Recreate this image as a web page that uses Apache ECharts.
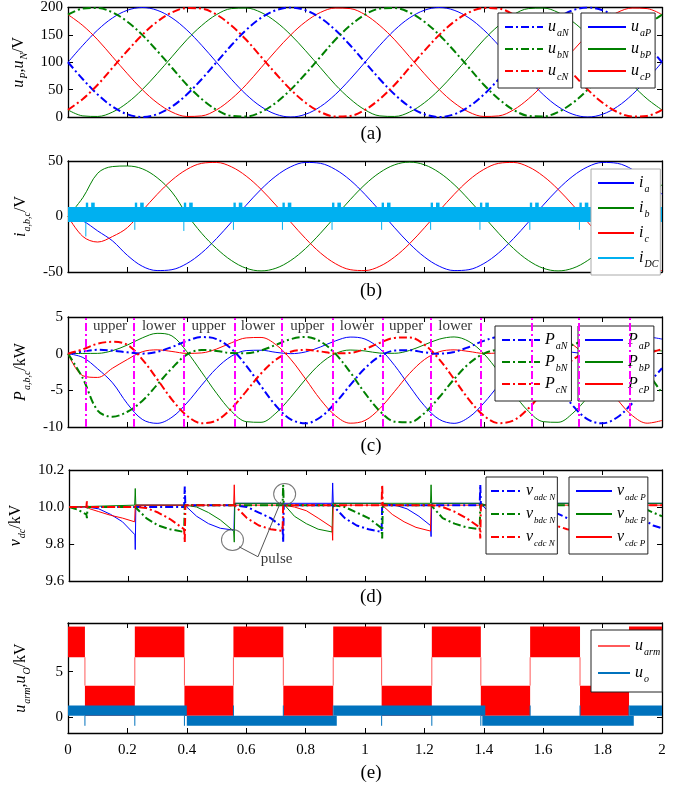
<!DOCTYPE html>
<html>
<head>
<meta charset="utf-8">
<script src="https://cdn.jsdelivr.net/npm/echarts@6/dist/echarts.min.js"></script>
<style>
html, body { margin: 0; padding: 0; background: #fff; }
#chart-container { width: 685px; height: 786px; }
</style>
</head>
<body>
<div id="chart-container"></div>
<script>
var dom = document.getElementById('chart-container');
var myChart = echarts.init(dom, null, { renderer: 'canvas' });

// time samples used by panels (a)-(c)
var t = [0,0.05,0.1,0.15,0.2,0.25,0.3,0.35,0.4,0.45,0.5,0.55,0.6,0.65,0.7,0.75,0.8,0.85,0.9,0.95,
         1,1.05,1.1,1.15,1.2,1.25,1.3,1.35,1.4,1.45,1.5,1.55,1.6,1.65,1.7,1.75,1.8,1.85,1.9,1.95,2];

// (a) arm voltages, V
var uaP = [100,131,159,181,195,200,195,181,159,131,100,69,41,19,5,0,5,19,41,69,100,131,159,181,195,200,195,181,159,131,100,69,41,19,5,0,5,19,41,69,100];
var ubP = [13,2,1,9,26,50,79,110,141,167,187,198,199,191,174,150,121,90,59,33,13,2,1,9,26,50,79,110,141,167,187,198,199,191,174,150,121,90,59,33,13];
var ucP = [187,167,141,110,79,50,26,9,1,2,13,33,59,90,121,150,174,191,199,198,187,167,141,110,79,50,26,9,1,2,13,33,59,90,121,150,174,191,199,198,187];
var uaN = [100,69,41,19,5,0,5,19,41,69,100,131,159,181,195,200,195,181,159,131,100,69,41,19,5,0,5,19,41,69,100,131,159,181,195,200,195,181,159,131,100];
var ubN = [187,198,199,191,174,150,121,90,59,33,13,2,1,9,26,50,79,110,141,167,187,198,199,191,174,150,121,90,59,33,13,2,1,9,26,50,79,110,141,167,187];
var ucN = [13,33,59,90,121,150,174,191,199,198,187,167,141,110,79,50,26,9,1,2,13,33,59,90,121,150,174,191,199,198,187,167,141,110,79,50,26,9,1,2,13];

// (b) phase currents
var ia = [0,-4,-13,-22,-35,-44.8,-48.7,-47.9,-42.4,-32.8,-19.9,-5.1,10.2,24.5,36.4,44.8,48.7,47.9,42.4,32.8,19.9,5.1,-10.2,-24.5,-36.4,-44.8,-48.7,-47.9,-42.4,-32.8,-19.9,-5.1,10.2,24.5,36.4,44.8,48.7,47.9,42.4,32.8,19.9];
var ib = [0,17,39,45,45.5,43,35,22,2,-15.1,-28.8,-39.6,-46.6,-49,-46.6,-39.6,-28.8,-15.1,0,15.1,28.8,39.6,46.6,49,46.6,39.6,28.8,15.1,0,-15.1,-28.8,-39.6,-46.6,-49,-46.6,-39.6,-28.8,-15.1,0,15.1,28.8];
var ic = [0,-18,-23,-18,-10,5.1,19.9,32.8,42.4,47.9,48.7,44.8,36.4,24.5,10.2,-5.1,-19.9,-32.8,-42.4,-47.9,-48.7,-44.8,-36.4,-24.5,-10.2,5.1,19.9,32.8,42.4,47.9,48.7,44.8,36.4,24.5,10.2,-5.1,-19.9,-32.8,-42.4,-47.9,-48.7];
// i_DC: switching band, events, spikes
var dcBand = [-5, 8.5];
var dcEvents = [0.06,0.225,0.39,0.557,0.722,0.889,1.056,1.221,1.387,1.555,1.722,1.889];
var dcSpikeLow = [-18,-12,-13,-12,-12,-12,-12,-12,-12,-12,-12,-12];
var dcBumpHigh = [12.5,12.5,12.5,12.5,12.5,12.5,12.5,12.5,12.5,12.5,12.5,12.5];

// (c) arm powers, kW
var PaP = [0,-0.52,-2.07,-3.98,-6.83,-8.96,-9.50,-8.67,-6.74,-4.30,-1.99,-0.35,0.42,0.47,0.18,0,0.24,0.91,1.74,2.26,1.99,0.67,-1.62,-4.43,-7.10,-8.96,-9.50,-8.67,-6.74,-4.30,-1.99,-0.35,0.42,0.47,0.18,0,0.24,0.91,1.74,2.26,1.99];
var PaN = [0,0.28,0.53,0.42,0.18,0,0.24,0.91,1.74,2.26,1.99,0.67,-1.62,-4.43,-7.10,-8.96,-9.50,-8.67,-6.74,-4.30,-1.99,-0.35,0.42,0.47,0.18,0,0.24,0.91,1.74,2.26,1.99,0.67,-1.62,-4.43,-7.10,-8.96,-9.50,-8.67,-6.74,-4.30,-1.99];
var PbP = [0,0.03,0.04,0.41,1.18,2.15,2.77,2.42,0.28,-2.52,-5.39,-7.84,-9.27,-9.36,-8.11,-5.94,-3.48,-1.36,0,0.50,0.37,0.08,0.05,0.44,1.21,1.98,2.28,1.66,0,-2.52,-5.39,-7.84,-9.27,-9.36,-8.11,-5.94,-3.48,-1.36,0,0.50,0.37];
var PbN = [0,-3.37,-7.76,-8.60,-7.92,-6.45,-4.24,-1.98,-0.12,0.50,0.37,0.08,0.05,0.44,1.21,1.98,2.28,1.66,0,-2.52,-5.39,-7.84,-9.27,-9.36,-8.11,-5.94,-3.48,-1.36,0,0.50,0.37,0.08,0.05,0.44,1.21,1.98,2.28,1.66,0,-2.52,-5.39];
var PcP = [0,-3.01,-3.24,-1.98,-0.79,0.26,0.52,0.30,0.04,0.10,0.63,1.48,2.15,2.21,1.23,-0.77,-3.46,-6.26,-8.44,-9.48,-9.11,-7.48,-5.13,-2.70,-0.81,0.26,0.52,0.30,0.04,0.10,0.63,1.48,2.15,2.21,1.23,-0.77,-3.46,-6.26,-8.44,-9.48,-9.11];
var PcN = [0,0.59,1.36,1.62,1.21,-0.77,-3.46,-6.26,-8.44,-9.48,-9.11,-7.48,-5.13,-2.70,-0.81,0.26,0.52,0.30,0.04,0.10,0.63,1.48,2.15,2.21,1.23,-0.77,-3.46,-6.26,-8.44,-9.48,-9.11,-7.48,-5.13,-2.70,-0.81,0.26,0.52,0.30,0.04,0.10,0.63];
var switchTimes = [0.06,0.223,0.39,0.557,0.722,0.889,1.056,1.221,1.387,1.558,1.724,1.887];
var phaseNames = ['upper','lower','upper','lower','upper','lower','upper','lower'];

// (d) capacitor voltages, kV  [t, v]
var vadcP = [[0,10.0],[0.06,10.0],[0.10,9.99],[0.14,9.96],[0.18,9.92],[0.222,9.85],[0.223,9.77],[0.225,10.01],[0.39,10.01],[0.43,9.95],[0.47,9.91],[0.51,9.885],[0.556,9.875],[0.558,10.02],[0.887,10.02],[0.889,10.13],[0.891,10.02],[1.056,10.02],[1.10,10.01],[1.14,9.99],[1.18,9.95],[1.219,9.9],[1.221,9.84],[1.223,10.02],[1.387,10.02],[1.43,9.95],[1.47,9.91],[1.51,9.89],[1.553,9.875],[1.556,10.02],[1.885,10.02],[1.887,10.13],[1.889,10.02],[2.0,10.02]];
var vbdcP = [[0,10.0],[0.221,10.01],[0.223,10.1],[0.225,10.01],[0.39,10.01],[0.43,10.0],[0.47,9.97],[0.51,9.93],[0.555,9.87],[0.557,9.81],[0.559,10.02],[0.722,10.02],[0.76,9.95],[0.80,9.91],[0.84,9.88],[0.887,9.865],[0.889,10.02],[1.219,10.02],[1.221,10.12],[1.223,10.02],[1.387,10.02],[1.43,10.0],[1.47,9.97],[1.51,9.93],[1.553,9.87],[1.555,9.81],[1.557,10.02],[1.722,10.02],[1.76,9.95],[1.80,9.91],[1.84,9.88],[1.885,9.865],[1.887,10.02],[2.0,10.02]];
var vcdcP = [[0,10.0],[0.06,10.0],[0.07,9.99],[0.10,9.975],[0.14,9.955],[0.18,9.94],[0.221,9.92],[0.223,10.01],[0.555,10.01],[0.557,10.12],[0.559,10.01],[0.722,10.01],[0.76,10.0],[0.80,9.98],[0.84,9.94],[0.887,9.89],[0.889,9.82],[0.891,10.01],[1.056,10.01],[1.09,9.96],[1.13,9.92],[1.17,9.89],[1.219,9.87],[1.221,10.01],[1.553,10.01],[1.555,10.12],[1.557,10.01],[1.722,10.01],[1.76,10.0],[1.80,9.98],[1.84,9.94],[1.885,9.89],[1.887,9.82],[1.889,10.01],[2.0,10.01]];
var vadcN = [[0,10.0],[0.388,10.0],[0.39,10.11],[0.392,10.01],[0.557,10.01],[0.60,10.0],[0.64,9.97],[0.68,9.94],[0.72,9.89],[0.722,9.81],[0.724,10.01],[0.889,10.01],[0.93,9.94],[0.97,9.90],[1.01,9.88],[1.054,9.865],[1.056,10.01],[1.385,10.01],[1.387,10.12],[1.389,10.01],[1.555,10.01],[1.60,10.0],[1.64,9.97],[1.68,9.94],[1.72,9.89],[1.722,9.81],[1.724,10.01],[1.887,10.01],[1.93,9.94],[1.97,9.90],[2.0,9.885]];
var vbdcN = [[0,10.0],[0.03,9.985],[0.058,9.96],[0.06,9.94],[0.062,10.0],[0.223,10.0],[0.26,9.94],[0.30,9.90],[0.34,9.88],[0.388,9.865],[0.39,10.01],[0.72,10.01],[0.722,10.12],[0.724,10.01],[0.889,10.01],[0.93,10.0],[0.97,9.97],[1.01,9.94],[1.054,9.886],[1.056,9.83],[1.058,10.01],[1.221,10.01],[1.26,9.94],[1.30,9.91],[1.34,9.89],[1.385,9.88],[1.387,10.01],[1.72,10.01],[1.722,10.12],[1.724,10.01],[1.887,10.01],[1.93,10.0],[1.97,9.97],[2.0,9.95]];
var vcdcN = [[0,10.0],[0.058,10.0],[0.06,10.03],[0.062,10.0],[0.223,10.0],[0.26,9.995],[0.30,9.97],[0.34,9.935],[0.388,9.88],[0.39,9.81],[0.392,10.01],[0.557,10.01],[0.60,9.94],[0.64,9.90],[0.68,9.88],[0.72,9.87],[0.722,10.01],[1.054,10.01],[1.056,10.12],[1.058,10.01],[1.221,10.01],[1.26,10.0],[1.30,9.975],[1.34,9.94],[1.385,9.89],[1.387,9.83],[1.389,10.01],[1.555,10.01],[1.60,9.94],[1.64,9.90],[1.68,9.88],[1.72,9.87],[1.722,10.01],[2.0,10.01]];

// (e) arm voltage blocks [t0, t1] and levels, output voltage band
var armHigh = [[0,0.057],[0.225,0.392],[0.557,0.725],[0.893,1.056],[1.225,1.39],[1.556,1.724],[1.889,2.0]];
var armLow = [[0.057,0.225],[0.392,0.557],[0.725,0.893],[1.056,1.225],[1.39,1.556],[1.724,1.889]];
var armHighLevel = [6.6, 10.0];
var armLowLevel = [0.1, 3.45];
var armSwitch = [0.057,0.225,0.392,0.557,0.725,0.893,1.056,1.225,1.39,1.556,1.724,1.889];
var uoUpper = [[0,0.4],[0.895,1.405],[1.89,2.0]];
var uoLower = [[0.4,0.905],[1.395,1.905]];
var uoUpperLevel = [0.12, 1.25];
var uoLowerLevel = [-1.0, 0.1];

var FONT = 'Liberation Serif';
var BLUE = '#0000ff', GREEN = '#008000', RED = '#ff0000', CYAN = '#00b0f0', MAG = '#ff00ff', EBLUE = '#0072bd';
var DASHDOT = [8, 3, 2, 3];

var rich = {
    v: { fontFamily: FONT, fontStyle: 'italic', fontSize: 16, color: '#000' },
    s: { fontFamily: FONT, fontStyle: 'italic', fontSize: 10, color: '#000', padding: [12, 0, 0, 1] },
    ss: { fontFamily: FONT, fontStyle: 'italic', fontSize: 9, color: '#000', padding: [13, 0, 0, 1] },
    n: { fontFamily: FONT, fontSize: 16, color: '#000' }
};

var legendText = {
    uaN: '{v|u}{s|aN}', ubN: '{v|u}{s|bN}', ucN: '{v|u}{s|cN}',
    uaP: '{v|u}{s|aP}', ubP: '{v|u}{s|bP}', ucP: '{v|u}{s|cP}',
    ia: '{v|i}{s|a}', ib: '{v|i}{s|b}', ic: '{v|i}{s|c}', iDC: '{v|i}{s|DC}',
    PaN: '{v|P}{s|aN}', PbN: '{v|P}{s|bN}', PcN: '{v|P}{s|cN}',
    PaP: '{v|P}{s|aP}', PbP: '{v|P}{s|bP}', PcP: '{v|P}{s|cP}',
    vadcN: '{v|v}{ss|adc N}', vbdcN: '{v|v}{ss|bdc N}', vcdcN: '{v|v}{ss|cdc N}',
    vadcP: '{v|v}{ss|adc P}', vbdcP: '{v|v}{ss|bdc P}', vcdcP: '{v|v}{ss|cdc P}',
    uarm: '{v|u}{s|arm}', uO: '{v|u}{s|o}'
};

function pair(xs, ys) {
    return xs.map(function (x, i) { return [x, ys[i]]; });
}

function wave(name, ys, gi, color, dashed) {
    return {
        name: name, type: 'line', xAxisIndex: 2 * gi, yAxisIndex: 2 * gi,
        data: pair(t, ys), smooth: 0.35, symbol: 'none', silent: true,
        lineStyle: { color: color, width: dashed ? 2 : 1, type: dashed ? DASHDOT : 'solid' },
        itemStyle: { color: color }, z: dashed ? 3 : 2
    };
}

function steps(name, data, gi, color, dashed) {
    return {
        name: name, type: 'line', xAxisIndex: 2 * gi, yAxisIndex: 2 * gi,
        data: data, symbol: 'none', silent: true,
        lineStyle: { color: color, width: dashed ? 2 : 1, type: dashed ? DASHDOT : 'solid' },
        itemStyle: { color: color }, z: dashed ? 3 : 2
    };
}

// vertical segments [t, lo, hi] drawn as one broken line
function segs(name, list, gi, color, z) {
    var out = [];
    list.forEach(function (s) {
        out.push([s[0], s[1]], [s[0], s[2]], [s[0], '-']);
    });
    return {
        name: name, type: 'line', xAxisIndex: 2 * gi, yAxisIndex: 2 * gi,
        data: out, symbol: 'none', silent: true, connectNulls: false,
        lineStyle: { color: color, width: 1 }, itemStyle: { color: color }, z: z
    };
}

// filled rectangles [t0, t1, lo, hi]
function rects(name, data, gi, color, z) {
    return {
        name: name, type: 'custom', xAxisIndex: 2 * gi, yAxisIndex: 2 * gi,
        data: data, z: z, silent: true,
        encode: { x: [0, 1], y: [2, 3] },
        renderItem: function (params, api) {
            var p0 = api.coord([api.value(0), api.value(3)]);
            var p1 = api.coord([api.value(1), api.value(2)]);
            return {
                type: 'rect',
                shape: { x: p0[0], y: p0[1], width: p1[0] - p0[0], height: p1[1] - p0[1] },
                style: { fill: color }
            };
        }
    };
}

// ---- build derived mark lists from the arrays above
var dcBandRects = [[0, 2, dcBand[0], dcBand[1]]];
dcEvents.forEach(function (e, i) {
    dcBandRects.push([e, e + 0.008, dcBand[1] - 1, dcBumpHigh[i]]);
    dcBandRects.push([e + 0.018, e + 0.03, dcBand[1] - 1, dcBumpHigh[i]]);
});
var dcSpikes = dcEvents.map(function (e, i) { return [e, dcBand[0], dcSpikeLow[i]]; });

var armRects = armHigh.map(function (b) { return [b[0], b[1], armHighLevel[0], armHighLevel[1]]; })
    .concat(armLow.map(function (b) { return [b[0], b[1], armLowLevel[0], armLowLevel[1]]; }));
var armLines = armSwitch.map(function (s) { return [s, armLowLevel[1], armHighLevel[0]]; });
var uoRects = uoUpper.map(function (b) { return [b[0], b[1], uoUpperLevel[0], uoUpperLevel[1]]; })
    .concat(uoLower.map(function (b) { return [b[0], b[1], uoLowerLevel[0], uoLowerLevel[1]]; }));
var uoSpikes = armSwitch.map(function (s) {
    var up = uoLower.some(function (b) { return s > b[0] && s < b[1]; });
    return up ? [s, uoLowerLevel[1], uoUpperLevel[1]] : [s, uoUpperLevel[0], uoLowerLevel[0]];
});
var phaseLabelData = phaseNames.map(function (n, i) {
    return [(switchTimes[i] + switchTimes[i + 1]) / 2, 3.7, n];
});

// ---- grids and axes
var gridTops = [6, 161, 317, 470, 623];
var gridHeights = [111, 111, 110, 111, 110];
var yCfg = [
    { min: 0, max: 200, interval: 50 },
    { min: -50, max: 50, interval: 50 },
    { min: -10, max: 5, interval: 5 },
    { min: 9.6, max: 10.2, interval: 0.2, fmt: function (v) { return v.toFixed(1); } },
    { min: -1.8, max: 10.4, custom: [0, 5] }
];
var yNames = [
    '{v|u}{s|P}{n|,}{v|u}{s|N}{n|/V}',
    '{v|i}{s|a,b,c}{n|/V}',
    '{v|P}{s|a,b,c}{n|/kW}',
    '{v|v}{s|dc}{n|/kV}',
    '{v|u}{s|arm}{n|,}{v|u}{s|O}{n|/kV}'
];
var nameGaps = [33, 36, 34, 34, 36];

var grids = [], xAxes = [], yAxes = [];
for (var i = 0; i < 5; i++) {
    grids.push({ left: 68, right: 23, top: gridTops[i], height: gridHeights[i] });
    var tick = { show: true, inside: true, length: 5, lineStyle: { color: '#000', width: 1 } };
    var axLine = { show: true, onZero: false, lineStyle: { color: '#000', width: 1.3 } };
    xAxes.push({
        type: 'value', gridIndex: i, min: 0, max: 2, interval: 0.2, position: 'bottom',
        axisLine: axLine, axisTick: tick, splitLine: { show: false },
        axisLabel: { show: i === 4, color: '#000', fontFamily: FONT, fontSize: 15, margin: 10 }
    });
    xAxes.push({
        type: 'value', gridIndex: i, min: 0, max: 2, interval: 0.2, position: 'top',
        axisLine: axLine, axisTick: tick, splitLine: { show: false }, axisLabel: { show: false }
    });
    var yc = yCfg[i];
    var yl = {
        type: 'value', gridIndex: i, min: yc.min, max: yc.max, position: 'left',
        axisLine: axLine, splitLine: { show: false },
        axisTick: { show: true, inside: true, length: 5, lineStyle: { color: '#000', width: 1 } },
        axisLabel: { color: '#000', fontFamily: FONT, fontSize: 15, margin: 5 },
        name: yNames[i], nameLocation: 'middle', nameGap: nameGaps[i], nameRotate: 90,
        nameTextStyle: { rich: rich }
    };
    var yr = {
        type: 'value', gridIndex: i, min: yc.min, max: yc.max, position: 'right',
        axisLine: axLine, splitLine: { show: false },
        axisTick: { show: true, inside: true, length: 5, lineStyle: { color: '#000', width: 1 } },
        axisLabel: { show: false }
    };
    if (yc.interval) { yl.interval = yc.interval; yr.interval = yc.interval; }
    if (yc.custom) {
        yl.axisTick.customValues = yc.custom; yl.axisLabel.customValues = yc.custom;
        yr.axisTick.customValues = yc.custom;
    }
    if (yc.fmt) yl.axisLabel.formatter = yc.fmt;
    yAxes.push(yl, yr);
}

function legendBox(names, left, top, extra) {
    var base = {
        data: names, left: left, top: top, orient: 'vertical',
        itemWidth: 38, itemHeight: 12, itemGap: 3, padding: [6, 4, 6, 6],
        borderColor: '#222', borderWidth: 1, backgroundColor: '#fff', selectedMode: false,
        itemStyle: { opacity: 0 },
        textStyle: { rich: rich },
        formatter: function (n) { return legendText[n]; }
    };
    return Object.assign(base, extra || {});
}

var series = [
    // (a)
    wave('uaP', uaP, 0, BLUE, false), wave('ubP', ubP, 0, GREEN, false), wave('ucP', ucP, 0, RED, false),
    wave('uaN', uaN, 0, BLUE, true), wave('ubN', ubN, 0, GREEN, true), wave('ucN', ucN, 0, RED, true),
    // (b)
    wave('ia', ia, 1, BLUE, false), wave('ib', ib, 1, GREEN, false), wave('ic', ic, 1, RED, false),
    rects('iDC band', dcBandRects, 1, CYAN, 3),
    segs('iDC', dcSpikes, 1, CYAN, 3),
    // (c)
    Object.assign(wave('PaP', PaP, 2, BLUE, false), {
        markLine: {
            silent: true, symbol: ['none', 'none'], label: { show: false },
            lineStyle: { color: MAG, width: 2, type: DASHDOT },
            data: switchTimes.map(function (s) { return { xAxis: s }; })
        }
    }),
    wave('PbP', PbP, 2, GREEN, false), wave('PcP', PcP, 2, RED, false),
    wave('PaN', PaN, 2, BLUE, true), wave('PbN', PbN, 2, GREEN, true), wave('PcN', PcN, 2, RED, true),
    {
        type: 'scatter', xAxisIndex: 4, yAxisIndex: 4, data: phaseLabelData, symbolSize: 0, silent: true, z: 5,
        label: {
            show: true, position: 'inside', color: '#000', fontFamily: FONT, fontSize: 15,
            formatter: function (p) { return p.data[2]; }
        }
    },
    // (d)
    steps('vadcP', vadcP, 3, BLUE, false), steps('vbdcP', vbdcP, 3, GREEN, false), steps('vcdcP', vcdcP, 3, RED, false),
    steps('vadcN', vadcN, 3, BLUE, true), steps('vbdcN', vbdcN, 3, GREEN, true), steps('vcdcN', vcdcN, 3, RED, true),
    {
        type: 'scatter', xAxisIndex: 6, yAxisIndex: 6, data: [[0.551, 9.822], [0.727, 10.07]],
        symbol: 'circle', symbolSize: [22, 21], silent: true, z: 6,
        itemStyle: { color: 'rgba(0,0,0,0)', borderColor: '#555', borderWidth: 1 }
    },
    {
        type: 'line', xAxisIndex: 6, yAxisIndex: 6, data: [[0.573, 9.785], [0.637, 9.731], [0.714, 10.029]],
        symbol: 'none', silent: true, z: 6, lineStyle: { color: '#555', width: 1 }
    },
    {
        type: 'scatter', xAxisIndex: 6, yAxisIndex: 6, data: [[0.70, 9.717]], symbolSize: 0, silent: true, z: 6,
        label: { show: true, position: 'inside', formatter: 'pulse', color: '#000', fontFamily: FONT, fontSize: 15 }
    },
    // (e)
    rects('uarm blocks', armRects, 4, RED, 2),
    segs('uarm', armLines, 4, '#ff5a5a', 2),
    rects('uO band', uoRects, 4, EBLUE, 3),
    segs('uO', uoSpikes, 4, EBLUE, 3)
];

var captions = ['(a)', '(b)', '(c)', '(d)', '(e)'];
var captionTops = [120, 277, 432, 583, 759];

var option = {
    animation: false,
    backgroundColor: '#fff',
    title: captions.map(function (c, i) {
        return {
            text: c, left: 366, top: captionTops[i], textAlign: 'center',
            textStyle: { fontFamily: FONT, fontSize: 19, fontWeight: 'normal', color: '#000' }
        };
    }),
    grid: grids,
    xAxis: xAxes,
    yAxis: yAxes,
    legend: [
        legendBox(['uaN', 'ubN', 'ucN'], 498, 13),
        legendBox(['uaP', 'ubP', 'ucP'], 581, 13),
        legendBox(['ia', 'ib', 'ic', 'iDC'], 591, 169, { borderColor: '#aaa', itemGap: 6, itemWidth: 36, padding: [6, 2, 6, 6] }),
        legendBox(['PaN', 'PbN', 'PcN'], 495, 326),
        legendBox(['PaP', 'PbP', 'PcP'], 578, 326),
        legendBox(['vadcN', 'vbdcN', 'vcdcN'], 486, 477, { itemWidth: 30, itemGap: 4, padding: [6, 2, 6, 4] }),
        legendBox(['vadcP', 'vbdcP', 'vcdcP'], 569, 477, { itemWidth: 36, itemGap: 4, padding: [6, 2, 6, 6] }),
        legendBox(['uarm', 'uO'], 591, 630, { itemGap: 8, itemWidth: 32, padding: [8, 2, 8, 6] })
    ],
    series: series
};

if (option && typeof option === 'object') {
    myChart.setOption(option);
}

window.addEventListener('resize', myChart.resize);
</script>
</body>
</html>
